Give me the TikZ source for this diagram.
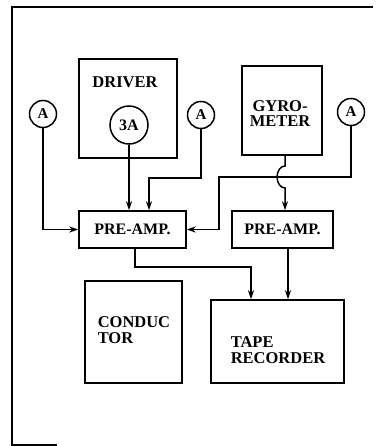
\documentclass[tikz,border=0pt]{standalone}
\usepackage{fontspec}
\setmainfont{Liberation Serif}
\usetikzlibrary{arrows.meta}
\begin{document}
\begin{tikzpicture}[x=1pt,y=1pt,
  line width=1.5pt,
  blk/.style={draw, rectangle, inner sep=0pt},
  meter/.style={draw, circle, inner sep=0pt, font=\bfseries\fontsize{15}{15}\selectfont},
  lbl/.style={font=\bfseries\fontsize{16.5}{15.5}\selectfont, inner sep=0pt},
  arr/.style={-{Stealth[length=9pt,width=6pt]}},
  ]
\useasboundingbox (0,0) rectangle (379,-446);
% frame
\coordinate (f1) at (373,-7);
\coordinate (f2) at (12,-7);
\coordinate (f3) at (12,-445);
\coordinate (f4) at (57,-445);
\draw (f1) -- (f2) -- (f3) -- (f4);
% boxes
\node[blk, minimum width=98pt, minimum height=99pt] (drv) at (128,-108.5) {};
\node[blk, minimum width=80pt, minimum height=89pt] (gyro) at (282,-110.5) {};
\node[blk, minimum width=107pt, minimum height=37pt, font=\bfseries\fontsize{16}{16}\selectfont] (p1) at (132.5,-229.5) {PRE-AMP.};
\node[blk, minimum width=101pt, minimum height=37pt, font=\bfseries\fontsize{16}{16}\selectfont] (p2) at (282.5,-229.5) {PRE-AMP.};
\node[blk, minimum width=97pt, minimum height=102pt] (cond) at (133.5,-332) {};
\node[blk, minimum width=133pt, minimum height=83pt] (tape) at (277.5,-341.5) {};
% labels
\node[lbl] (tdrv) at (125,-82) {DRIVER};
\node[lbl, align=center] (tgyro) at (280,-113.5) {GYRO-\\METER};
\node[lbl, align=left, anchor=west] (tcond) at (97,-330) {CONDUC\\TOR};
\node[lbl, align=left, anchor=west] (ttape) at (230,-350) {TAPE\\RECORDER};
% meters
\node[meter, minimum size=38pt, font=\bfseries\fontsize{16}{16}\selectfont] (m3a) at (129,-125) {3A};
\node[meter, minimum size=27pt] (al) at (43,-114) {A};
\node[meter, minimum size=27pt] (am) at (201,-115) {A};
\node[meter, minimum size=27pt] (ar) at (351,-112) {A};
% connectors
\draw[arr] (al.south) |- (p1.west);
\draw[arr] (m3a.south) -- (m3a.south |- p1.north);
\coordinate (c1) at (149,-178);
\draw[arr] (am.south) |- (c1) -- (c1 |- p1.north);
\coordinate (c2) at (351,-177);
\coordinate (c3) at (219,-177);
\draw[arr] (ar.south) -- (c2) -- (c3) |- (p1.east);
\coordinate (g1) at (285,-155);
\coordinate (g2) at (285,-166);
\draw[arr] (g1) -- (g2) arc[start angle=90, end angle=270, x radius=8, y radius=11] -- (g1 |- p2.north);
\coordinate (c4) at (135,-267);
\coordinate (c5) at (251,-267);
\draw[arr] (c4 |- p1.south) -- (c4) -- (c5) -- (c5 |- tape.north);
\coordinate (c6) at (288,-248);
\draw[arr] (c6) -- (c6 |- tape.north);
\end{tikzpicture}
\end{document}
